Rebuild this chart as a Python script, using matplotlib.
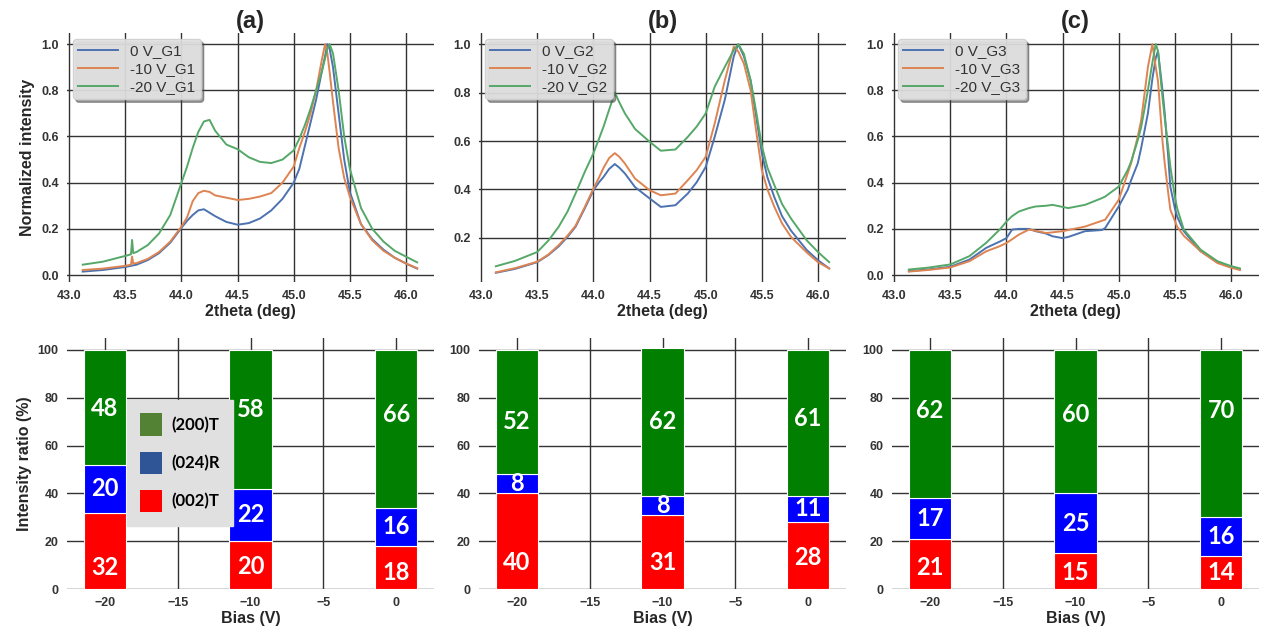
import matplotlib
matplotlib.use("Agg")
import matplotlib.pyplot as plt
from matplotlib.patches import Patch

# ---------------- XRD scans (normalized intensity vs 2theta) ----------------
g1_theta = [43.12, 43.3, 43.5, 43.55, 43.56, 43.57, 43.6, 43.7, 43.8, 43.9, 44.0,
            44.05, 44.1, 44.15, 44.2, 44.25, 44.3, 44.4, 44.5, 44.6, 44.7, 44.8,
            44.9, 45.0, 45.05, 45.1, 45.15, 45.2, 45.25, 45.28, 45.3, 45.32, 45.35,
            45.4, 45.45, 45.5, 45.6, 45.7, 45.8, 45.9, 46.0, 46.1]
g1_0V = [0.015, 0.022, 0.035, 0.04, 0.041, 0.042, 0.045, 0.065, 0.095, 0.14, 0.205,
         0.235, 0.26, 0.28, 0.285, 0.27, 0.255, 0.23, 0.218, 0.225, 0.245, 0.28,
         0.33, 0.40, 0.46, 0.56, 0.66, 0.76, 0.88, 0.95, 1.0, 0.98, 0.90,
         0.70, 0.50, 0.36, 0.22, 0.155, 0.11, 0.075, 0.05, 0.028]
g1_m10V = [0.022, 0.028, 0.04, 0.045, 0.08, 0.05, 0.052, 0.07, 0.10, 0.145, 0.21,
           0.25, 0.32, 0.355, 0.365, 0.36, 0.345, 0.335, 0.325, 0.33, 0.34, 0.355,
           0.40, 0.47, 0.55, 0.62, 0.70, 0.80, 0.93, 1.0, 0.96, 0.88, 0.75,
           0.55, 0.42, 0.34, 0.22, 0.15, 0.105, 0.075, 0.05, 0.03]
g1_m20V = [0.045, 0.058, 0.083, 0.09, 0.152, 0.095, 0.10, 0.13, 0.18, 0.26, 0.40,
           0.47, 0.55, 0.62, 0.665, 0.672, 0.625, 0.565, 0.545, 0.51, 0.49, 0.485,
           0.50, 0.54, 0.59, 0.65, 0.72, 0.80, 0.88, 0.94, 0.98, 1.0, 0.96,
           0.80, 0.60, 0.46, 0.29, 0.20, 0.145, 0.105, 0.08, 0.055]

g2_theta = [43.13, 43.3, 43.5, 43.6, 43.69, 43.77, 43.84, 43.92, 44.0, 44.05, 44.09,
            44.14, 44.19, 44.23, 44.28, 44.37, 44.5, 44.6, 44.73, 44.84, 44.92, 45.0,
            45.08, 45.17, 45.25, 45.29, 45.34, 45.4, 45.45, 45.5, 45.55, 45.61, 45.68,
            45.76, 45.9, 46.0, 46.1]
g2_0V = [0.056, 0.072, 0.10, 0.13, 0.165, 0.205, 0.246, 0.32, 0.397, 0.43, 0.452,
         0.485, 0.505, 0.49, 0.466, 0.41, 0.363, 0.328, 0.335, 0.383, 0.43, 0.493,
         0.617, 0.77, 0.95, 1.0, 0.95, 0.85, 0.70, 0.55, 0.45, 0.37, 0.29,
         0.23, 0.15, 0.108, 0.074]
g2_m10V = [0.058, 0.075, 0.102, 0.132, 0.17, 0.21, 0.25, 0.325, 0.404, 0.45, 0.49,
           0.53, 0.55, 0.535, 0.507, 0.445, 0.397, 0.376, 0.383, 0.438, 0.48, 0.535,
           0.672, 0.85, 0.99, 0.97, 0.92, 0.81, 0.64, 0.48, 0.40, 0.33, 0.26,
           0.204, 0.14, 0.10, 0.074]
g2_m20V = [0.083, 0.105, 0.142, 0.19, 0.246, 0.31, 0.383, 0.47, 0.55, 0.61, 0.66,
           0.73, 0.80, 0.76, 0.714, 0.65, 0.597, 0.56, 0.565, 0.617, 0.66, 0.714,
           0.824, 0.906, 0.975, 1.0, 0.96, 0.85, 0.72, 0.58, 0.49, 0.42, 0.34,
           0.28, 0.19, 0.142, 0.10]

g3_theta = [43.13, 43.3, 43.5, 43.67, 43.82, 43.94, 44.0, 44.05, 44.11, 44.2, 44.26,
            44.35, 44.41, 44.5, 44.55, 44.7, 44.85, 44.88, 45.0, 45.08, 45.11, 45.17,
            45.2, 45.26, 45.3, 45.33, 45.35, 45.39, 45.41, 45.44, 45.46, 45.5, 45.52,
            45.58, 45.73, 45.88, 46.0, 46.08]
g3_0V = [0.017, 0.024, 0.036, 0.067, 0.118, 0.145, 0.16, 0.197, 0.20, 0.20, 0.19,
         0.18, 0.168, 0.16, 0.165, 0.19, 0.195, 0.204, 0.297, 0.369, 0.41, 0.484,
         0.55, 0.70, 0.85, 0.94, 0.97, 0.80, 0.70, 0.52, 0.383, 0.29, 0.254,
         0.19, 0.103, 0.055, 0.036, 0.024]
g3_m10V = [0.015, 0.022, 0.033, 0.06, 0.103, 0.125, 0.139, 0.155, 0.175, 0.197, 0.192,
           0.182, 0.185, 0.19, 0.195, 0.21, 0.235, 0.24, 0.326, 0.44, 0.484, 0.60,
           0.67, 0.90, 1.0, 0.90, 0.84, 0.58, 0.484, 0.36, 0.283, 0.235, 0.21,
           0.17, 0.103, 0.052, 0.032, 0.022]
g3_m20V = [0.024, 0.032, 0.046, 0.082, 0.14, 0.197, 0.232, 0.255, 0.275, 0.29, 0.297,
           0.30, 0.304, 0.295, 0.29, 0.304, 0.333, 0.34, 0.383, 0.455, 0.49, 0.584,
           0.64, 0.80, 0.92, 1.0, 0.97, 0.77, 0.68, 0.555, 0.47, 0.34, 0.29,
           0.197, 0.11, 0.06, 0.039, 0.029]

# ---------------- Texture intensity ratios (%) vs substrate bias ----------------
bias = [-20, -10, 0]
g1_002T = [32, 20, 18]
g1_024R = [20, 22, 16]
g1_200T = [48, 58, 66]
g2_002T = [40, 31, 28]
g2_024R = [8, 8, 11]
g2_200T = [52, 62, 61]
g3_002T = [21, 15, 14]
g3_024R = [17, 25, 16]
g3_200T = [62, 60, 70]

line_colors = ["#4C72B0", "#DD8452", "#55A868"]
bar_colors = {"002T": "#FF0000", "024R": "#0000FF", "200T": "#007F00"}
key_colors = {"200T": "#548235", "024R": "#2F5597", "002T": "#FF0000"}

plt.rcParams["font.family"] = ["Liberation Sans", "DejaVu Sans"]

W, H = 1261, 637
fig = plt.figure(figsize=(W / 100, H / 100), dpi=100)
fig.patch.set_facecolor("white")


def ax_box(left, top, width, height):
    return [left / W, 1 - (top + height) / H, width / W, height / H]


def style_axes(ax):
    for s in ax.spines.values():
        s.set_visible(False)
    ax.grid(True, color="#333333", linewidth=1.0)
    ax.set_axisbelow(True)
    ax.tick_params(length=0, pad=6, labelsize=9, labelcolor="#333333")
    for lab in ax.get_xticklabels() + ax.get_yticklabels():
        lab.set_fontweight("bold")


lefts = [67, 479, 892]
axw = 367
scans = [
    ("(a)", g1_theta, [g1_0V, g1_m10V, g1_m20V], "G1", (-0.03, 1.048)),
    ("(b)", g2_theta, [g2_0V, g2_m10V, g2_m20V], "G2", (0.018, 1.046)),
    ("(c)", g3_theta, [g3_0V, g3_m10V, g3_m20V], "G3", (-0.03, 1.048)),
]
for i, (title, th, series, tag, ylim) in enumerate(scans):
    ax = fig.add_axes(ax_box(lefts[i], 33, axw, 249))
    names = [f"0 V_{tag}", f"-10 V_{tag}", f"-20 V_{tag}"]
    for y, c, n in zip(series, line_colors, names):
        ax.plot(th, y, color=c, lw=1.4, label=n)
    ax.set_xlim(42.98, 46.25)
    ax.set_ylim(*ylim)
    ticks = [43.0, 43.5, 44.0, 44.5, 45.0, 45.5, 46.0]
    ax.set_xticks(ticks)
    ax.set_xticklabels([f"{v:.1f}" for v in ticks])
    style_axes(ax)
    ax.set_xlabel("2theta (deg)", fontsize=11.5, fontweight="bold", color="#262626", labelpad=1)
    if i == 0:
        ax.set_ylabel("Normalized intensity", fontsize=11.5, fontweight="bold", color="#262626")
    ax.set_title(title, fontsize=17, fontweight="bold", color="#262626", pad=2)
    leg = ax.legend(loc="upper left", fontsize=11, frameon=True, fancybox=True,
                    shadow=True, facecolor="#e4e4e4", edgecolor="#cfcfcf",
                    framealpha=0.9, handlelength=2.6, borderaxespad=0.4,
                    labelspacing=0.25, borderpad=0.35)
    for t in leg.get_texts():
        t.set_color("#333333")

ratios = [
    (g1_002T, g1_024R, g1_200T),
    (g2_002T, g2_024R, g2_200T),
    (g3_002T, g3_024R, g3_200T),
]
# heights at which the (002)T and (200)T percentages are printed
label_heights = [
    ([9, 9.6, 7], [75.7, 75, 73]),
    ([11, 11, 13], [70, 70, 71.5]),
    ([8.8, 7, 7], [74.5, 73, 74.5]),
]
for i, (r002, r024, r200) in enumerate(ratios):
    ax = fig.add_axes(ax_box(lefts[i], 338, axw, 251))
    bottom2 = [a + b for a, b in zip(r002, r024)]
    ax.bar(bias, r002, width=2.9, color=bar_colors["002T"], edgecolor="white", lw=0.8)
    ax.bar(bias, r024, width=2.9, bottom=r002, color=bar_colors["024R"], edgecolor="white", lw=0.8)
    ax.bar(bias, r200, width=2.9, bottom=bottom2, color=bar_colors["200T"], edgecolor="white", lw=0.8)
    red_y, green_y = label_heights[i]
    for k, x in enumerate(bias):
        kw = dict(ha="center", va="center", color="white", fontsize=17,
                  fontweight="bold", family=["Lato", "DejaVu Sans"])
        ax.text(x, red_y[k], str(r002[k]), **kw)
        ax.text(x, r002[k] + r024[k] / 2, str(r024[k]), **kw)
        ax.text(x, green_y[k], str(r200[k]), **kw)
    ax.set_xlim(-22.6, 2.6)
    ax.set_ylim(0, 105)
    ax.set_xticks([-20, -15, -10, -5, 0])
    ax.set_yticks([0, 20, 40, 60, 80, 100])
    style_axes(ax)
    ax.set_xlabel("Bias (V)", fontsize=11.5, fontweight="bold", color="#262626", labelpad=1)
    if i == 0:
        ax.set_ylabel("Intensity ratio (%)", fontsize=11.5, fontweight="bold", color="#262626")
        handles = [Patch(facecolor=key_colors[k]) for k in ["200T", "024R", "002T"]]
        leg = ax.legend(handles, ["(200)T", "(024)R", "(002)T"],
                        loc="upper left", bbox_to_anchor=(0.163, 0.753),
                        frameon=True, fancybox=False, facecolor="#e0e0e0",
                        edgecolor="#e0e0e0", framealpha=1.0,
                        prop={"family": ["Lato", "DejaVu Sans"], "weight": "bold", "size": 12},
                        handlelength=1.3, handleheight=1.7, labelspacing=0.95,
                        handletextpad=0.55, borderpad=0.8, borderaxespad=0.0)
        leg.set_zorder(5)

fig.savefig("out.png", dpi=100, facecolor="white")
